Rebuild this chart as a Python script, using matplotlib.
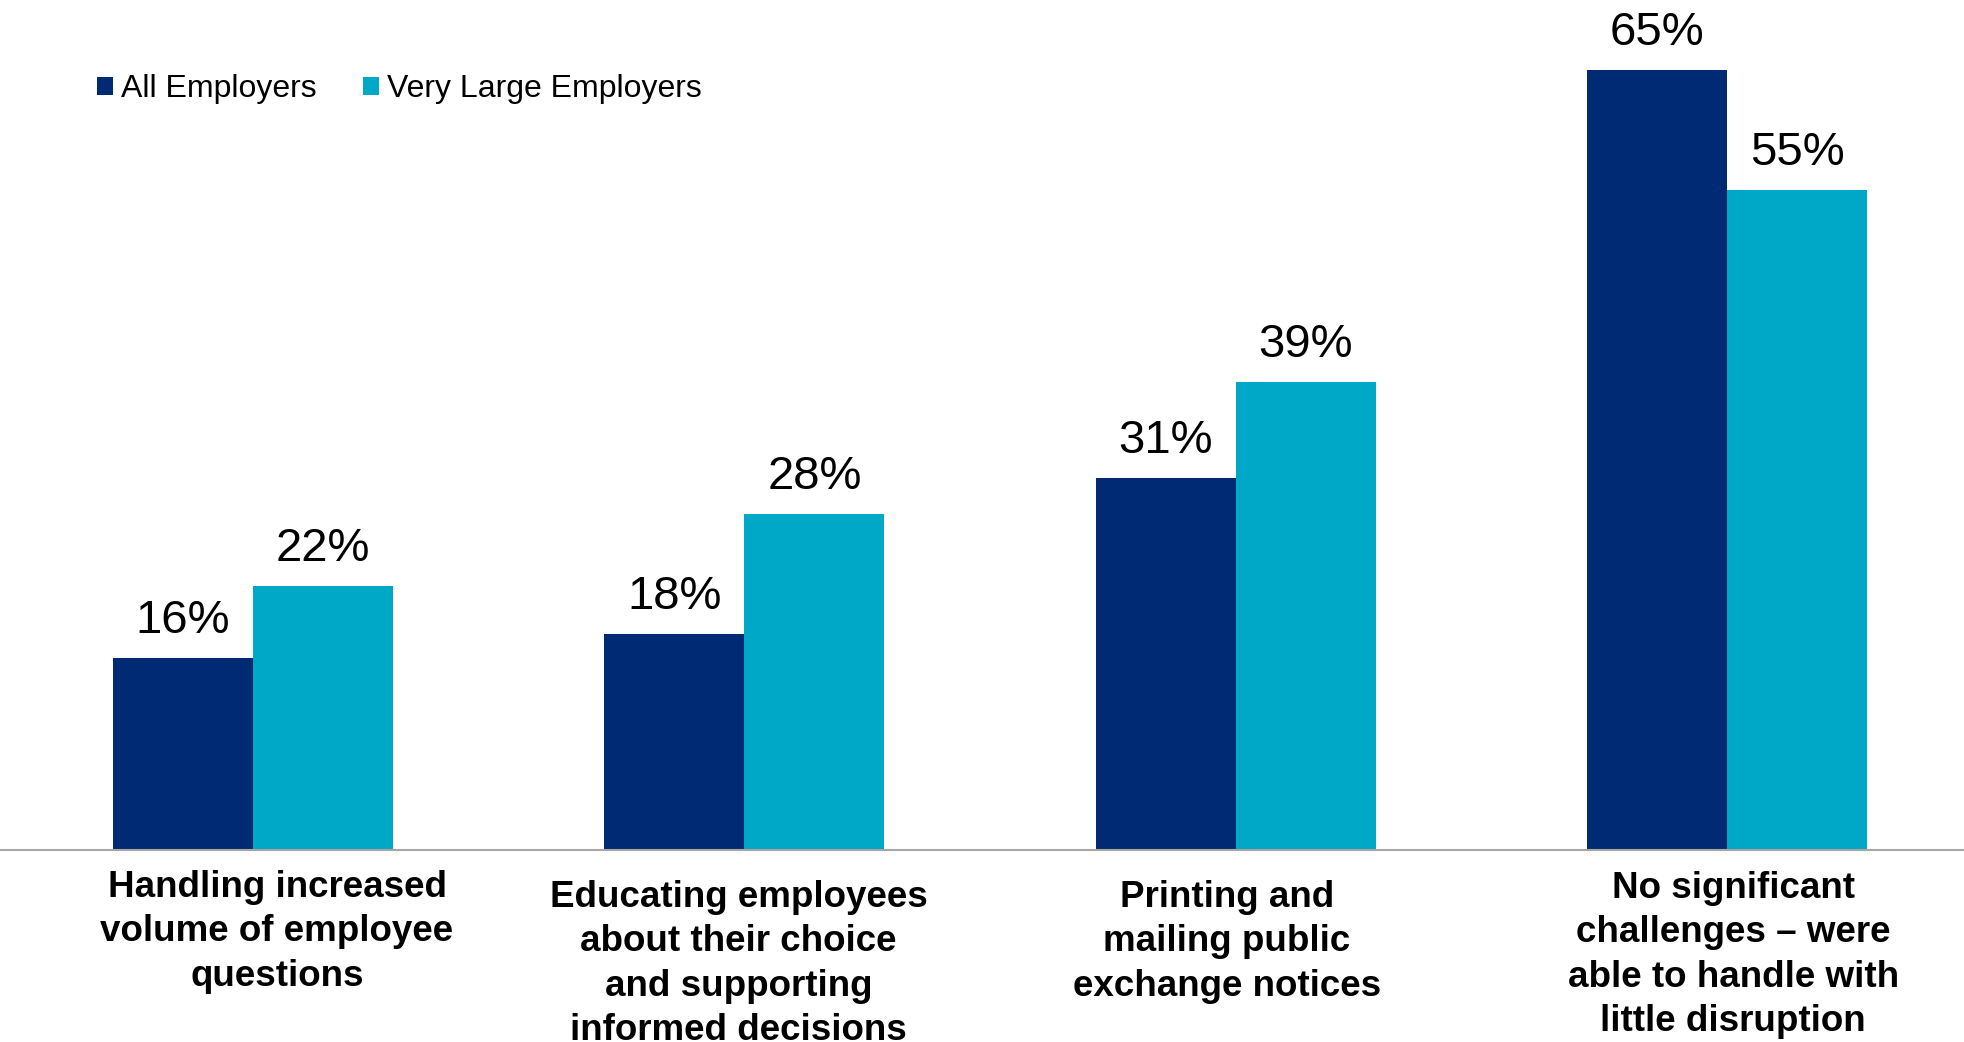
import numpy as np
import matplotlib
matplotlib.use("Agg")
import matplotlib.pyplot as plt
from matplotlib.patches import Patch

categories = [
    "Handling increased\nvolume of employee\nquestions",
    "Educating employees\nabout their choice\nand supporting\ninformed decisions",
    "Printing and\nmailing public\nexchange notices",
    "No significant\nchallenges \u2013 were\nable to handle with\nlittle disruption",
]
series_names = ["All Employers", "Very Large Employers"]
all_employers = [16, 18, 31, 65]
very_large = [22, 28, 39, 55]

DARK = "#002A74"
LIGHT = "#00A8C7"

plt.rcParams["font.family"] = ["Liberation Sans", "DejaVu Sans"]

W, H, DPI = 1964, 1042, 100
fig = plt.figure(figsize=(W / DPI, H / DPI), dpi=DPI)
base_px = 850
ax = fig.add_axes([0, (H - base_px) / H, 1, base_px / H])

x = np.arange(len(categories))
bw = 0.285
b1 = ax.bar(x - bw / 2, all_employers, width=bw, color=DARK, label=series_names[0])
b2 = ax.bar(x + bw / 2, very_large, width=bw, color=LIGHT, label=series_names[1])

ax.set_xlim(-0.515, 3.482)
ax.set_ylim(0, base_px / 12)

for bars, vals in ((b1, all_employers), (b2, very_large)):
    for rect, v in zip(bars, vals):
        ax.annotate(f"{v}%", (rect.get_x() + rect.get_width() / 2, v),
                    xytext=(0, 25), textcoords="offset pixels",
                    ha="center", va="baseline", fontsize=34, color="black")

for side in ("top", "left", "right"):
    ax.spines[side].set_visible(False)
ax.spines["bottom"].set_color("#A6A6A6")
ax.spines["bottom"].set_linewidth(1.5)
ax.set_yticks([])
ax.set_xticks([])

# category label text boxes: (horizontal shift, drop below the axis) in pixels
label_shift = [24, -6, -9, 6]
label_drop = [20, 30, 30, 21]
trans = ax.get_xaxis_transform()
for xi, txt, dx, d in zip(x, categories, label_shift, label_drop):
    ax.annotate(txt, (xi, 0), xycoords=trans, xytext=(dx, -d),
                textcoords="offset pixels", ha="center", va="top",
                multialignment="center",
                fontsize=26.5, fontweight="bold", linespacing=1.35,
                color="black")

handles = [Patch(facecolor=DARK), Patch(facecolor=LIGHT)]
fig.legend(handles, series_names, loc="center left",
           bbox_to_anchor=(97 / W, 1 - 89.5 / H), frameon=False, ncol=2,
           fontsize=23, handlelength=0.5, handleheight=0.5,
           handletextpad=0.25, columnspacing=1.45, borderpad=0,
           borderaxespad=0)

fig.savefig("out.png", dpi=DPI)
